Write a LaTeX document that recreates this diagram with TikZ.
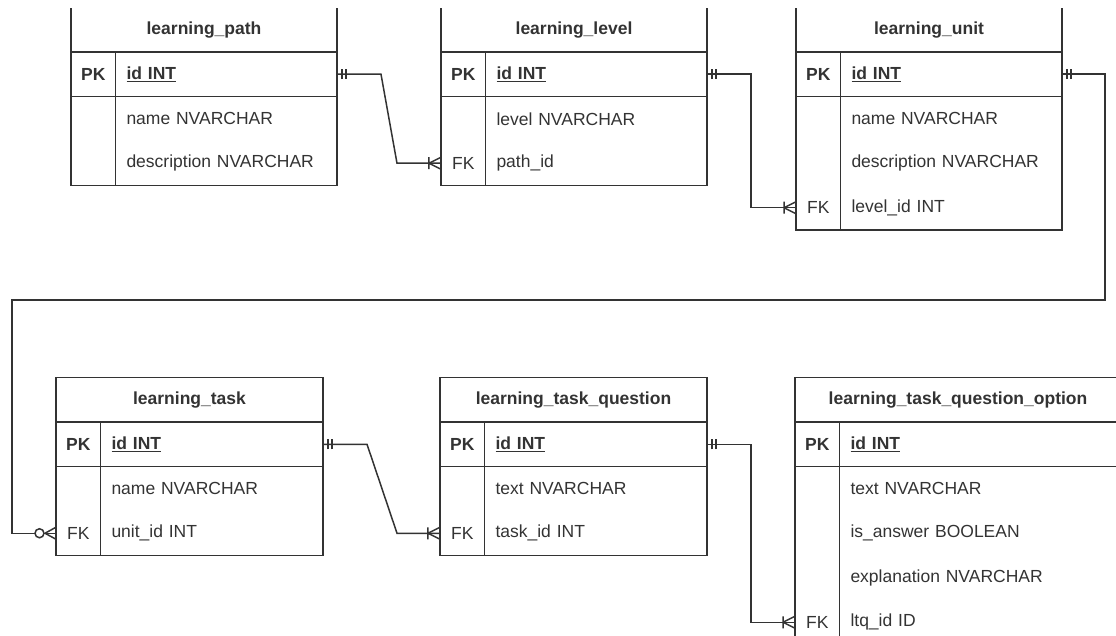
\documentclass[tikz,border=0pt]{standalone}
\usepackage{fontspec}
\setmainfont{Liberation Sans}
\usepackage{tikz}
\usetikzlibrary{positioning,decorations.markings}
\usepackage{xcolor}
\definecolor{ink}{HTML}{333333}
\definecolor{paper}{HTML}{FFFFFF}

\begin{document}
\begin{tikzpicture}[x=1pt, y=-1pt,
      every node/.style={font=\fontsize{17.5}{21}\selectfont, text=ink, outer sep=0pt, inner sep=0pt},
      hdr/.style={draw=ink, line width=1.5pt, minimum height=44.5pt, font=\fontsize{17.5}{21}\selectfont\bfseries},
      keycell/.style={minimum width=44.5pt, minimum height=44.5pt},
      pkey/.style={keycell, draw=ink, line width=1.5pt, font=\fontsize{17.5}{21}\selectfont\bfseries},
      fieldcell/.style={text width=#1, minimum height=44.5pt, inner xsep=11pt, align=left},
      idcell/.style={fieldcell=#1, draw=ink, line width=1.5pt, font=\fontsize{17.5}{21}\selectfont\bfseries},
      box/.style={draw=ink, line width=1.5pt},
      rel/.style={draw=ink, line width=1.5pt},
      mandone/.style={postaction={decorate, decoration={markings,
          mark=at position 5pt with {\draw[rel] (0,-5pt) -- (0,5pt);},
          mark=at position 9pt with {\draw[rel] (0,-5pt) -- (0,5pt);}}}},
      onemany/.style={postaction={decorate, decoration={markings,
          mark=at position -0.01pt with {\draw[rel] (-12pt,0) -- (0,6pt) (-12pt,0) -- (0,-6pt) (-12pt,-6pt) -- (-12pt,6pt);}}}},
      zeromany/.style={postaction={decorate, decoration={markings,
          mark=at position -0.01pt with {\draw[rel] (-11pt,0) -- (0,6pt) (-11pt,0) -- (0,-6pt);
            \draw[rel, fill=paper] (-16.5pt,0) circle[radius=4.5pt];}}}}
    ]
    \useasboundingbox (0,0) rectangle (1116,636);
    \begin{scope}
      \clip (0,9) rectangle (1116,636);

      % learning_path
      \node[hdr, minimum width=266pt, anchor=north west] (path) at (71,7.5) {learning\_path};
      \node[pkey, below right=0pt and 0pt of path.south west] (path-pk) {PK};
      \node[idcell=199.5pt, right=0pt of path-pk] (path-id) {\underline{id INT}};
      \node[keycell, below=0pt of path-pk] (path-k1) {};
      \node[fieldcell=199.5pt, right=0pt of path-k1] (path-name) {name NVARCHAR};
      \node[keycell, below=0pt of path-k1] (path-k2) {};
      \node[fieldcell=199.5pt, right=0pt of path-k2] (path-desc) {description NVARCHAR};
      \draw[box] (path-k1.north west) rectangle (path-k2.south east);
      \draw[box] (path-k1.north east) rectangle (path-desc.south east);

      % learning_level
      \node[hdr, minimum width=266pt, anchor=north west] (lvl) at (441,7.5) {learning\_level};
      \node[pkey, below right=0pt and 0pt of lvl.south west] (lvl-pk) {PK};
      \node[idcell=199.5pt, right=0pt of lvl-pk] (lvl-id) {\underline{id INT}};
      \node[keycell, below=0pt of lvl-pk] (lvl-k1) {};
      \node[fieldcell=199.5pt, right=0pt of lvl-k1] (lvl-level) {level NVARCHAR};
      \node[keycell, below=0pt of lvl-k1] (lvl-k2) {FK};
      \node[fieldcell=199.5pt, right=0pt of lvl-k2] (lvl-path) {path\_id};
      \draw[box] (lvl-k1.north west) rectangle (lvl-k2.south east);
      \draw[box] (lvl-k1.north east) rectangle (lvl-path.south east);

      % learning_unit
      \node[hdr, minimum width=266pt, anchor=north west] (unit) at (796,7.5) {learning\_unit};
      \node[pkey, below right=0pt and 0pt of unit.south west] (unit-pk) {PK};
      \node[idcell=199.5pt, right=0pt of unit-pk] (unit-id) {\underline{id INT}};
      \node[keycell, below=0pt of unit-pk] (unit-k1) {};
      \node[fieldcell=199.5pt, right=0pt of unit-k1] (unit-name) {name NVARCHAR};
      \node[keycell, below=0pt of unit-k1] (unit-k2) {};
      \node[fieldcell=199.5pt, right=0pt of unit-k2] (unit-desc) {description NVARCHAR};
      \node[keycell, below=0pt of unit-k2] (unit-k3) {FK};
      \node[fieldcell=199.5pt, right=0pt of unit-k3] (unit-level) {level\_id INT};
      \draw[box] (unit-k1.north west) rectangle (unit-k3.south east);
      \draw[box] (unit-k1.north east) rectangle (unit-level.south east);

      % learning_task
      \node[hdr, minimum width=267pt, anchor=north west] (task) at (56,377.5) {learning\_task};
      \node[pkey, below right=0pt and 0pt of task.south west] (task-pk) {PK};
      \node[idcell=200.5pt, right=0pt of task-pk] (task-id) {\underline{id INT}};
      \node[keycell, below=0pt of task-pk] (task-k1) {};
      \node[fieldcell=200.5pt, right=0pt of task-k1] (task-name) {name NVARCHAR};
      \node[keycell, below=0pt of task-k1] (task-k2) {FK};
      \node[fieldcell=200.5pt, right=0pt of task-k2] (task-unit) {unit\_id INT};
      \draw[box] (task-k1.north west) rectangle (task-k2.south east);
      \draw[box] (task-k1.north east) rectangle (task-unit.south east);

      % learning_task_question
      \node[hdr, minimum width=267pt, anchor=north west] (ques) at (440,377.5) {learning\_task\_question};
      \node[pkey, below right=0pt and 0pt of ques.south west] (ques-pk) {PK};
      \node[idcell=200.5pt, right=0pt of ques-pk] (ques-id) {\underline{id INT}};
      \node[keycell, below=0pt of ques-pk] (ques-k1) {};
      \node[fieldcell=200.5pt, right=0pt of ques-k1] (ques-text) {text NVARCHAR};
      \node[keycell, below=0pt of ques-k1] (ques-k2) {FK};
      \node[fieldcell=200.5pt, right=0pt of ques-k2] (ques-task) {task\_id INT};
      \draw[box] (ques-k1.north west) rectangle (ques-k2.south east);
      \draw[box] (ques-k1.north east) rectangle (ques-task.south east);

      % learning_task_question_option
      \node[hdr, minimum width=326pt, anchor=north west] (opt) at (795,377.5) {learning\_task\_question\_option};
      \node[pkey, below right=0pt and 0pt of opt.south west] (opt-pk) {PK};
      \node[idcell=259.5pt, right=0pt of opt-pk] (opt-id) {\underline{id INT}};
      \node[keycell, below=0pt of opt-pk] (opt-k1) {};
      \node[fieldcell=259.5pt, right=0pt of opt-k1] (opt-text) {text NVARCHAR};
      \node[keycell, below=0pt of opt-k1] (opt-k2) {};
      \node[fieldcell=259.5pt, right=0pt of opt-k2] (opt-answer) {is\_answer BOOLEAN};
      \node[keycell, below=0pt of opt-k2] (opt-k3) {};
      \node[fieldcell=259.5pt, right=0pt of opt-k3] (opt-expl) {explanation NVARCHAR};
      \node[keycell, below=0pt of opt-k3] (opt-k4) {FK};
      \node[fieldcell=259.5pt, right=0pt of opt-k4] (opt-ltq) {ltq\_id ID};
      \draw[box] (opt-k1.north west) rectangle (opt-k4.south east);
      \draw[box] (opt-k1.north east) rectangle (opt-ltq.south east);

      % relations
      \coordinate (wrap) at (12,300);
      \draw[rel, mandone, onemany] (path-id.east) -- ++(44,0) -- ([xshift=-44pt]lvl-k2.west) -- (lvl-k2.west);
      \draw[rel, mandone, onemany] (lvl-id.east) -- ++(44,0) |- (unit-k3.west);
      \draw[rel, mandone, zeromany] (unit-id.east) -- ++(43,0) |- (wrap) |- (task-k2.west);
      \draw[rel, mandone, onemany] (task-id.east) -- ++(44,0) -- ([xshift=-43pt]ques-k2.west) -- (ques-k2.west);
      \draw[rel, mandone, onemany] (ques-id.east) -- ++(44,0) |- (opt-k4.west);
    \end{scope}
\end{tikzpicture}
\end{document}
